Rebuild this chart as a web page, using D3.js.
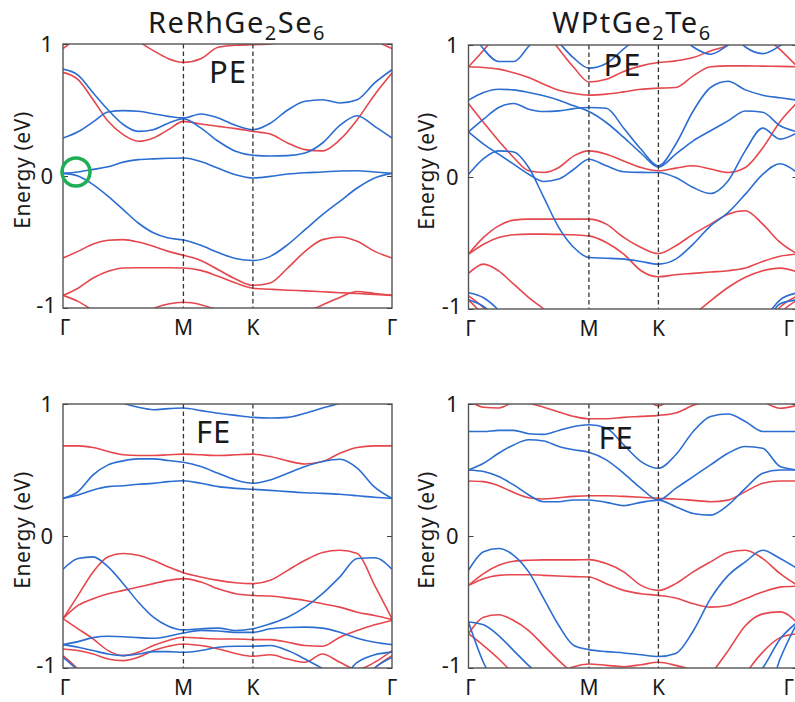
<!DOCTYPE html>
<html>
<head>
<meta charset="utf-8">
<script src="https://cdn.jsdelivr.net/npm/d3@7"></script>
<style>
    body { margin: 0; background: #fff; }
    svg text { font-family: "Noto Sans", "DejaVu Sans", sans-serif; fill: #1a1a1a; }
</style>
</head>
<body>
<div id="chart"></div>
<script>
// k path Γ-M-K-Γ (hexagonal, |ΓM| = 1)
let kpts = [0, 0.125, 0.25, 0.375, 0.5, 0.625, 0.75, 0.875, 1, 1.144, 1.289, 1.433, 1.577,
            1.721, 1.866, 2.010, 2.155, 2.299, 2.443, 2.588, 2.732];
let kSym = [0, 1, 1.577, 2.732];
let kLabels = ["Γ", "M", "K", "Γ"];
let yTicks = [1, 0, -1];

// ReRhGe2Se6, PE
let rePE_red = [
    [0.785, 0.73, 0.578, 0.414, 0.313, 0.263, 0.288, 0.351, 0.414, 0.394, 0.376, 0.359, 0.338, 0.318, 0.25, 0.2, 0.19, 0.275, 0.427, 0.616, 0.78],
    [0.965, 1.05, 1.12, 1.12, 1.08, 1.02, 0.95, 0.889, 0.861, 0.889, 0.975, 0.99, 0.995, 1.0, 1.05, 1.1, 1.15, 1.15, 1.12, 1.03, 0.965],
    [-0.621, -0.571, -0.515, -0.487, -0.482, -0.5, -0.533, -0.571, -0.601, -0.64, -0.71, -0.78, -0.828, -0.81, -0.697, -0.571, -0.482, -0.462, -0.495, -0.571, -0.621],
    [-0.904, -0.85, -0.773, -0.722, -0.697, -0.695, -0.695, -0.695, -0.697, -0.715, -0.76, -0.81, -0.85, -0.858, -0.865, -0.87, -0.877, -0.884, -0.89, -0.897, -0.904],
    [-0.904, -0.95, -1.02, -1.1, -1.2, -1.3, -1.3, -1.3, -1.3, -1.3, -1.3, -1.3, -1.3, -1.25, -1.15, -1.04, -0.977, -0.92, -0.875, -0.89, -0.904],
    [-1.3, -1.3, -1.3, -1.3, -1.2, -1.08, -1.005, -0.97, -0.957, -0.975, -1.02, -1.1, -1.2, -1.3, -1.3, -1.3, -1.3, -1.3, -1.3, -1.3, -1.3]
];
let rePE_blue = [
    [0.02, 0.03, 0.05, 0.07, 0.105, 0.124, 0.13, 0.134, 0.136, 0.11, 0.058, 0.01, -0.015, -0.003, 0.015, 0.025, 0.03, 0.038, 0.04, 0.03, 0.02],
    [0.02, 0.0, -0.065, -0.154, -0.255, -0.356, -0.43, -0.47, -0.485, -0.525, -0.58, -0.625, -0.64, -0.609, -0.52, -0.407, -0.293, -0.192, -0.091, -0.015, 0.02],
    [0.288, 0.335, 0.41, 0.485, 0.495, 0.49, 0.472, 0.452, 0.44, 0.47, 0.44, 0.384, 0.351, 0.40, 0.50, 0.566, 0.578, 0.553, 0.578, 0.705, 0.805],
    [0.81, 0.765, 0.63, 0.5, 0.39, 0.338, 0.351, 0.40, 0.434, 0.364, 0.263, 0.187, 0.157, 0.152, 0.154, 0.174, 0.25, 0.384, 0.457, 0.376, 0.288]
];

// WPtGe2Te6, PE
let wpPE_red = [
    [0.835, 0.83, 0.817, 0.79, 0.754, 0.703, 0.658, 0.633, 0.62, 0.628, 0.645, 0.665, 0.673, 0.678, 0.766, 0.835, 0.842, 0.842, 0.84, 0.838, 0.835],
    [0.835, 0.96, 1.1, 1.25, 1.3, 1.3, 1.3, 1.3, 1.3, 1.3, 1.3, 1.3, 1.3, 1.3, 1.3, 1.3, 1.3, 1.25, 1.08, 0.965, 0.835],
    [1.3, 1.3, 1.3, 1.3, 1.25, 1.12, 0.97, 0.83, 0.72, 0.74, 0.80, 0.842, 0.867, 0.88, 0.905, 0.955, 1.0, 1.1, 1.2, 1.3, 1.3],
    [0.557, 0.413, 0.274, 0.148, 0.047, 0.034, 0.072, 0.16, 0.198, 0.173, 0.122, 0.072, 0.047, 0.067, 0.085, 0.06, 0.034, 0.072, 0.22, 0.42, 0.565],
    [-0.584, -0.458, -0.37, -0.327, -0.319, -0.319, -0.319, -0.319, -0.319, -0.357, -0.458, -0.534, -0.58, -0.521, -0.433, -0.357, -0.282, -0.256, -0.357, -0.496, -0.584],
    [-0.584, -0.509, -0.458, -0.438, -0.433, -0.433, -0.435, -0.438, -0.446, -0.496, -0.584, -0.71, -0.756, -0.74, -0.73, -0.72, -0.71, -0.69, -0.64, -0.6, -0.584],
    [-0.731, -0.66, -0.711, -0.812, -0.913, -1.0, -1.1, -1.2, -1.3, -1.3, -1.3, -1.3, -1.3, -1.2, -1.05, -0.938, -0.837, -0.76, -0.71, -0.69, -0.72],
    [-0.9, -0.99, -1.12, -1.3, -1.3, -1.3, -1.3, -1.3, -1.3, -1.3, -1.3, -1.3, -1.3, -1.3, -1.3, -1.3, -1.3, -1.3, -1.15, -0.985, -0.9],
    [-0.93, -1.05, -1.2, -1.3, -1.3, -1.3, -1.3, -1.3, -1.3, -1.3, -1.3, -1.3, -1.3, -1.3, -1.3, -1.3, -1.3, -1.3, -1.2, -1.03, -0.93]
];
let wpPE_blue = [
    [0.342, 0.438, 0.527, 0.557, 0.514, 0.496, 0.501, 0.518, 0.527, 0.521, 0.37, 0.21, 0.085, 0.248, 0.50, 0.678, 0.725, 0.66, 0.62, 0.6, 0.582],
    [0.582, 0.64, 0.665, 0.66, 0.64, 0.615, 0.582, 0.539, 0.496, 0.413, 0.30, 0.18, 0.075, 0.173, 0.274, 0.35, 0.425, 0.5, 0.49, 0.388, 0.342],
    [0.342, 0.249, 0.173, 0.097, 0.021, -0.034, -0.016, 0.059, 0.135, 0.085, 0.04, 0.035, 0.034, -0.004, -0.08, -0.125, -0.03, 0.2, 0.37, 0.287, 0.337],
    [0.02, 0.14, 0.198, 0.19, 0.072, -0.155, -0.383, -0.534, -0.61, -0.615, -0.622, -0.64, -0.66, -0.622, -0.508, -0.37, -0.27, -0.13, 0.02, 0.1, 0.03],
    [1.15, 0.97, 0.875, 0.875, 0.99, 1.12, 1.2, 1.2, 1.2, 1.2, 1.2, 1.2, 1.2, 1.2, 1.2, 1.2, 1.12, 0.985, 0.935, 0.995, 1.1],
    [1.2, 1.2, 1.2, 1.2, 1.2, 1.15, 1.02, 0.9, 0.825, 0.86, 0.97, 1.08, 1.15, 1.1, 0.985, 0.93, 1.0, 1.1, 1.2, 1.2, 1.2],
    [-0.877, -0.915, -1.01, -1.15, -1.3, -1.3, -1.3, -1.3, -1.3, -1.3, -1.3, -1.3, -1.3, -1.3, -1.3, -1.3, -1.3, -1.3, -1.1, -0.93, -0.877],
    [-0.93, -0.98, -1.08, -1.2, -1.3, -1.3, -1.3, -1.3, -1.3, -1.3, -1.3, -1.3, -1.3, -1.3, -1.3, -1.3, -1.3, -1.3, -1.15, -0.96, -0.93]
];

// ReRhGe2Se6, FE
let reFE_red = [
    [0.683, 0.683, 0.67, 0.64, 0.615, 0.61, 0.61, 0.615, 0.62, 0.615, 0.61, 0.615, 0.62, 0.602, 0.569, 0.546, 0.564, 0.627, 0.67, 0.683, 0.683],
    [-0.627, -0.45, -0.272, -0.158, -0.133, -0.146, -0.184, -0.234, -0.278, -0.31, -0.336, -0.354, -0.361, -0.336, -0.26, -0.184, -0.125, -0.108, -0.133, -0.374, -0.627],
    [-0.627, -0.526, -0.475, -0.437, -0.412, -0.387, -0.361, -0.336, -0.323, -0.349, -0.4, -0.437, -0.45, -0.455, -0.47, -0.488, -0.513, -0.539, -0.577, -0.602, -0.632],
    [-0.627, -0.703, -0.78, -0.868, -0.906, -0.881, -0.83, -0.792, -0.767, -0.774, -0.78, -0.78, -0.785, -0.785, -0.805, -0.83, -0.835, -0.767, -0.716, -0.673, -0.64],
    [-0.856, -0.868, -0.894, -0.932, -0.944, -0.919, -0.868, -0.835, -0.818, -0.83, -0.856, -0.89, -0.911, -0.9, -0.932, -0.957, -0.894, -0.957, -1.01, -0.957, -0.868],
    [-0.906, -1.01, -1.15, -1.3, -1.3, -1.3, -1.3, -1.3, -1.3, -1.3, -1.3, -1.3, -1.3, -1.3, -1.3, -1.3, -1.3, -1.3, -1.15, -1.0, -0.906]
];
let reFE_blue = [
    [1.3, 1.25, 1.15, 1.05, 1.005, 0.975, 0.957, 0.965, 0.97, 0.95, 0.93, 0.914, 0.899, 0.894, 0.899, 0.93, 0.97, 1.01, 1.1, 1.2, 1.3],
    [0.285, 0.336, 0.463, 0.539, 0.569, 0.584, 0.584, 0.572, 0.559, 0.526, 0.475, 0.425, 0.40, 0.425, 0.475, 0.526, 0.564, 0.582, 0.515, 0.37, 0.285],
    [0.285, 0.31, 0.349, 0.374, 0.381, 0.392, 0.399, 0.412, 0.419, 0.399, 0.374, 0.361, 0.354, 0.346, 0.336, 0.328, 0.323, 0.316, 0.305, 0.293, 0.285],
    [-0.252, -0.171, -0.158, -0.234, -0.361, -0.5, -0.615, -0.683, -0.711, -0.703, -0.698, -0.716, -0.703, -0.665, -0.615, -0.539, -0.437, -0.31, -0.17, -0.165, -0.252],
    [-0.823, -0.8, -0.77, -0.76, -0.763, -0.77, -0.775, -0.76, -0.735, -0.715, -0.72, -0.73, -0.73, -0.703, -0.693, -0.69, -0.698, -0.729, -0.774, -0.805, -0.823],
    [-0.823, -0.843, -0.868, -0.894, -0.906, -0.894, -0.876, -0.876, -0.881, -0.868, -0.843, -0.835, -0.835, -0.83, -0.868, -0.932, -1.005, -1.08, -0.957, -0.9, -0.88],
    [-0.919, -1.02, -1.15, -1.3, -1.3, -1.3, -1.3, -1.3, -1.3, -1.3, -1.3, -1.3, -1.3, -1.3, -1.3, -1.3, -1.3, -1.3, -1.15, -1.0, -0.92]
];

// WPtGe2Te6, FE
let wpFE_red = [
    [1.03, 0.975, 0.97, 1.02, 1.08, 1.15, 1.2, 1.3, 1.3, 1.3, 1.3, 1.3, 1.3, 1.3, 1.3, 1.3, 1.2, 1.1, 1.02, 0.968, 0.99],
    [1.3, 1.25, 1.15, 1.06, 1.01, 0.975, 0.94, 0.906, 0.888, 0.888, 0.899, 0.906, 0.914, 0.932, 0.99, 1.03, 1.1, 1.2, 1.3, 1.3, 1.3],
    [1.3, 1.3, 1.3, 1.3, 1.3, 1.3, 1.3, 1.3, 1.3, 1.3, 1.2, 1.08, 0.985, 1.08, 1.2, 1.3, 1.3, 1.3, 1.3, 1.3, 1.3],
    [0.417, 0.412, 0.381, 0.33, 0.29, 0.28, 0.29, 0.3, 0.305, 0.305, 0.3, 0.293, 0.285, 0.28, 0.27, 0.26, 0.272, 0.336, 0.399, 0.417, 0.417],
    [-0.374, -0.285, -0.222, -0.191, -0.184, -0.181, -0.181, -0.181, -0.179, -0.209, -0.272, -0.374, -0.412, -0.361, -0.272, -0.196, -0.125, -0.108, -0.171, -0.285, -0.374],
    [-0.374, -0.323, -0.298, -0.293, -0.293, -0.298, -0.303, -0.308, -0.311, -0.361, -0.412, -0.437, -0.45, -0.47, -0.513, -0.539, -0.526, -0.475, -0.425, -0.387, -0.38],
    [-0.74, -0.615, -0.597, -0.64, -0.716, -0.83, -0.944, -1.05, -1.2, -1.3, -1.3, -1.3, -1.3, -1.3, -1.2, -1.05, -0.87, -0.68, -0.59, -0.575, -0.66],
    [-0.74, -0.83, -0.93, -1.05, -1.2, -1.3, -1.3, -1.3, -1.3, -1.3, -1.3, -1.3, -1.3, -1.3, -1.3, -1.3, -1.3, -1.05, -0.88, -0.77, -0.74],
    [-1.3, -1.3, -1.3, -1.3, -1.3, -1.2, -1.05, -0.99, -0.97, -0.98, -0.99, -0.975, -0.956, -0.98, -1.02, -1.1, -1.3, -1.3, -1.3, -1.3, -1.3]
];
let wpFE_blue = [
    [0.792, 0.792, 0.8, 0.8, 0.775, 0.77, 0.8, 0.83, 0.843, 0.818, 0.69, 0.564, 0.513, 0.615, 0.792, 0.906, 0.924, 0.868, 0.792, 0.792, 0.792],
    [0.5, 0.551, 0.627, 0.69, 0.729, 0.72, 0.678, 0.653, 0.635, 0.577, 0.475, 0.361, 0.272, 0.361, 0.45, 0.539, 0.627, 0.678, 0.665, 0.526, 0.5],
    [0.5, 0.488, 0.45, 0.387, 0.311, 0.26, 0.26, 0.273, 0.273, 0.255, 0.23, 0.255, 0.272, 0.222, 0.171, 0.158, 0.234, 0.361, 0.475, 0.5, 0.5],
    [-0.26, -0.12, -0.095, -0.146, -0.272, -0.475, -0.678, -0.83, -0.861, -0.876, -0.886, -0.9, -0.913, -0.89, -0.72, -0.475, -0.3, -0.196, -0.108, -0.171, -0.247],
    [-0.652, -0.673, -0.754, -0.868, -0.982, -1.08, -1.2, -1.3, -1.3, -1.3, -1.3, -1.3, -1.3, -1.3, -1.3, -1.3, -1.3, -1.15, -1.0, -0.78, -0.652],
    [-0.652, -0.96, -1.15, -1.3, -1.3, -1.3, -1.3, -1.3, -1.3, -1.3, -1.3, -1.3, -1.3, -1.3, -1.3, -1.3, -1.3, -1.3, -1.3, -0.93, -0.652]
];

let width = 795;
let height = 702;
let pw = 329;
let ph = 264;

let redColor = "#e5474d";
let blueColor = "#2b6dd1";

let panels = [
    {x: 63, y: 44, red: rePE_red, blue: rePE_blue, tag: "PE", tagX: 146, tagY: 39, labX: 22},
    {x: 468.5, y: 45, red: wpPE_red, blue: wpPE_blue, tag: "PE", tagX: 135, tagY: 31, labX: 426},
    {x: 63, y: 404, red: reFE_red, blue: reFE_blue, tag: "FE", tagX: 133, tagY: 39, labX: 22},
    {x: 468.5, y: 404, red: wpFE_red, blue: wpFE_blue, tag: "FE", tagX: 130, tagY: 45, labX: 426}
];

let titles = [
    {x: 237, parts: ["ReRhGe", "2", "Se", "6"]},
    {x: 632, parts: ["WPtGe", "2", "Te", "6"]}
];

let svg = d3.select("#chart")
    .append("svg")
    .attr("width", width)
    .attr("height", height);

let x = d3.scaleLinear().domain([0, 2.732]).range([0, pw]);
let y = d3.scaleLinear().domain([-1, 1]).range([ph, 0]);

let line = d3.line()
    .x((d, i) => x(kpts[i]))
    .y(d => y(d))
    .curve(d3.curveMonotoneX);

panels.forEach((p, n) => {
    let g = svg.append("g")
        .attr("transform", "translate(" + p.x + "," + p.y + ")");

    g.append("clipPath")
        .attr("id", "clip" + n)
        .append("rect")
        .attr("width", pw)
        .attr("height", ph);

    let bands = g.append("g").attr("clip-path", "url(#clip" + n + ")");

    bands.selectAll(".red")
        .data(p.red)
        .enter()
        .append("path")
        .attr("d", line)
        .attr("fill", "none")
        .attr("stroke", redColor)
        .attr("stroke-width", 1.6);

    bands.selectAll(".blue")
        .data(p.blue)
        .enter()
        .append("path")
        .attr("d", line)
        .attr("fill", "none")
        .attr("stroke", blueColor)
        .attr("stroke-width", 1.6);

    // dashed lines at M and K
    g.selectAll(".sym")
        .data(kSym.slice(1, 3))
        .enter()
        .append("line")
        .attr("x1", d => x(d))
        .attr("x2", d => x(d))
        .attr("y1", 0)
        .attr("y2", ph)
        .attr("stroke", "#333")
        .attr("stroke-width", 1.3)
        .attr("stroke-dasharray", "4.5,3");

    g.append("rect")
        .attr("width", pw)
        .attr("height", ph)
        .attr("fill", "none")
        .attr("stroke", "#555")
        .attr("stroke-width", 1.4);

    let yAxis = g.append("g")
        .call(d3.axisLeft(y).tickValues(yTicks).tickSize(-5).tickPadding(10).tickFormat(d => String(d)));
    yAxis.select(".domain").remove();
    yAxis.selectAll("line").attr("stroke", "#444");
    yAxis.selectAll("text")
        .attr("font-size", 22)
        .attr("x", d => d === -1 ? -7 : -10)
        .attr("dy", d => d === -1 ? "0.2em" : "0.32em");

    let yRight = g.append("g")
        .attr("transform", "translate(" + pw + ",0)")
        .call(d3.axisRight(y).tickValues(yTicks).tickSize(-5).tickFormat(""));
    yRight.select(".domain").remove();
    yRight.selectAll("line").attr("stroke", "#444");

    // the right-hand Γ of the right panels sits past the page edge; pull it in
    let maxX = width - p.x - 1;
    g.selectAll(".klab")
        .data(kSym)
        .enter()
        .append("text")
        .attr("x", (d, i) => i === 0 ? x(d) + 2 : Math.min(x(d), maxX))
        .attr("y", ph + 27)
        .attr("text-anchor", d => x(d) > maxX - 6 ? "end" : "middle")
        .attr("font-size", 21)
        .text((d, i) => kLabels[i]);

    g.append("text")
        .attr("x", p.tagX)
        .attr("y", p.tagY)
        .attr("font-size", 31)
        .attr("letter-spacing", 1)
        .text(p.tag);

    svg.append("text")
        .attr("transform", "translate(" + p.labX + "," + (p.y + ph / 2 - 6) + ") rotate(-90)")
        .attr("text-anchor", "middle")
        .attr("dominant-baseline", "central")
        .attr("font-size", 21)
        .attr("letter-spacing", 0.6)
        .text("Energy (eV)");
});

titles.forEach(t => {
    let txt = svg.append("text")
        .attr("x", t.x)
        .attr("y", 33)
        .attr("text-anchor", "middle")
        .attr("font-size", 29)
        .attr("letter-spacing", 1.5);
    t.parts.forEach((s, i) => {
        let sub = i % 2 === 1;
        txt.append("tspan")
            .attr("dy", sub ? 7 : (i === 0 ? 0 : -7))
            .attr("font-size", sub ? 20 : 29)
            .text(s);
    });
});

// marker circle at Γ
svg.append("circle")
    .attr("cx", 76)
    .attr("cy", 172)
    .attr("r", 14)
    .attr("fill", "none")
    .attr("stroke", "#1fae55")
    .attr("stroke-width", 3.5);
</script>
</body>
</html>
